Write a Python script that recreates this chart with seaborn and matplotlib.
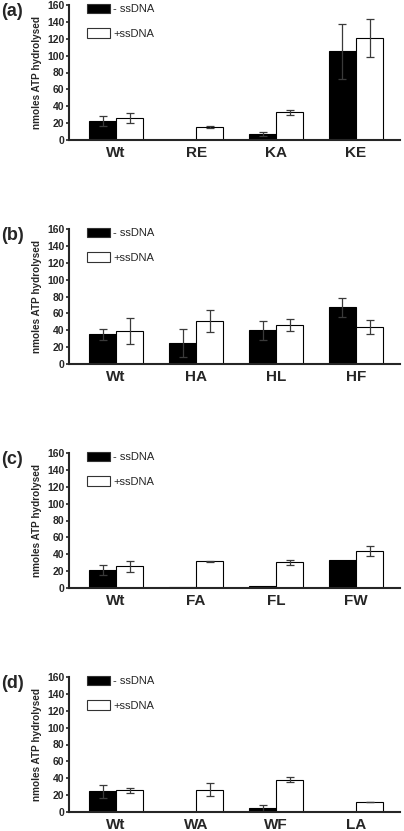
import pandas as pd
import numpy as np
import seaborn as sns
import matplotlib.pyplot as plt

# conditions / labels
conditions = ['- ssDNA', '+ssDNA']
panel_tags = ['(a)', '(b)', '(c)', '(d)']

# panel (a)
cats_a = ['Wt', 'RE', 'KA', 'KE']
minus_a = [23, 0, 7, 105]
minus_err_a = [6, 0, 2.5, 33]
plus_a = [26, 15.5, 33, 121]
plus_err_a = [6, 0.8, 3, 23]

# panel (b)
cats_b = ['Wt', 'HA', 'HL', 'HF']
minus_b = [35, 25, 40, 67]
minus_err_b = [6, 16.5, 11, 11]
plus_b = [39, 51, 46, 44]
plus_err_b = [15, 13, 7, 8]

# panel (c)
cats_c = ['Wt', 'FA', 'FL', 'FW']
minus_c = [21.5, 1.2, 2.5, 33.5]
minus_err_c = [5.5, 0, 0, 0]
plus_c = [26, 31.5, 30.5, 44]
plus_err_c = [6.5, 1, 3, 6]

# panel (d)
cats_d = ['Wt', 'WA', 'WF', 'LA']
minus_d = [24.5, 0, 4.3, 0]
minus_err_d = [8, 0, 4, 0]
plus_d = [25.5, 26.5, 38, 11.8]
plus_err_d = [3, 8, 3, 0.5]

panels = [
    (cats_a, minus_a, minus_err_a, plus_a, plus_err_a),
    (cats_b, minus_b, minus_err_b, plus_b, plus_err_b),
    (cats_c, minus_c, minus_err_c, plus_c, plus_err_c),
    (cats_d, minus_d, minus_err_d, plus_d, plus_err_d),
]

sns.set_style('ticks')
plt.rcParams['font.family'] = ['Liberation Sans', 'DejaVu Sans']

W, H = 404, 831
fig = plt.figure(figsize=(W / 100, H / 100), dpi=100)

left_px, right_px = 69, 400
tops_px = [5, 229, 453, 677]
ax_h_px = 135

for tag, top, (cats, mn, mn_err, pl, pl_err) in zip(panel_tags, tops_px, panels):
    ax = fig.add_axes([left_px / W, 1 - (top + ax_h_px) / H,
                       (right_px - left_px) / W, ax_h_px / H])
    df = pd.DataFrame({
        'cat': cats * 2,
        'cond': [conditions[0]] * 4 + [conditions[1]] * 4,
        'val': mn + pl,
        'err': mn_err + pl_err,
    })
    sns.barplot(data=df, x='cat', y='val', hue='cond', order=cats,
                hue_order=conditions, palette=['black', 'white'],
                width=0.677, errorbar=None, edgecolor='black',
                linewidth=0.8, ax=ax)

    # error bars on the seaborn bar patches
    bars = ax.patches[:8]
    for bar, v, e in zip(bars, df['val'], df['err']):
        if e > 0:
            xc = bar.get_x() + bar.get_width() / 2
            ax.errorbar(xc, v, yerr=e, fmt='none', ecolor='#3a3a3a',
                        elinewidth=0.9, capsize=3, capthick=0.9)

    ax.set_ylim(0, 160)
    ax.set_yticks(np.arange(0, 161, 20))
    ax.set_xlim(-0.59, 3.55)
    ax.set_xlabel('')
    ax.set_ylabel('nmoles ATP hydrolysed', fontsize=7.2, fontweight='bold')
    ax.yaxis.set_label_coords(-27 / 331, 0.5)
    sns.despine(ax=ax)
    for s in ['left', 'bottom']:
        ax.spines[s].set_linewidth(1.5)
    ax.tick_params(axis='y', length=2.5, width=1.2, pad=1, labelsize=7.5)
    ax.tick_params(axis='x', length=0, pad=4.5, labelsize=11)
    for t in ax.get_yticklabels() + ax.get_xticklabels():
        t.set_fontweight('bold')

    leg = ax.legend(loc='upper left', bbox_to_anchor=(14 / 331, 1.04),
                    frameon=False, fontsize=8, handlelength=2.0,
                    handleheight=0.9, labelspacing=1.25, handletextpad=0.3,
                    borderaxespad=0)
    for h in leg.legend_handles:
        h.set_edgecolor('#333333')
        h.set_linewidth(0.8)

    fig.text(1 / W, 1 - (top + 7) / H, tag, fontsize=13, fontweight='bold',
             ha='left', va='center')

fig.savefig('out.png', dpi=100)
